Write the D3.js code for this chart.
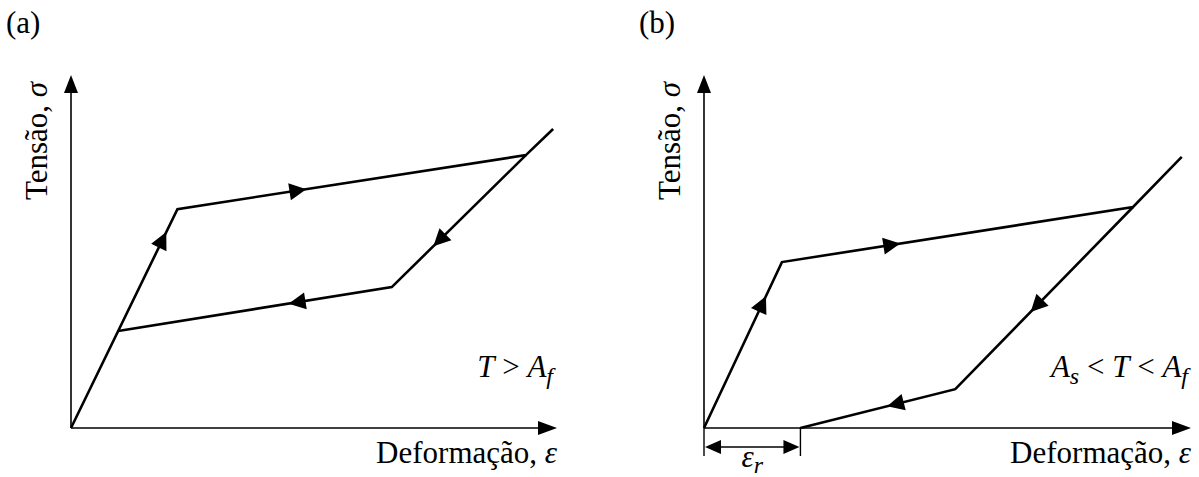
<!DOCTYPE html>
<html>
<head>
<meta charset="utf-8">
<script src="https://cdn.jsdelivr.net/npm/d3@7"></script>
<style>
  html, body { margin: 0; padding: 0; background: #fff; }
  svg { display: block; }
  text { font-family: "Liberation Serif", "Times New Roman", serif; fill: #000; }
</style>
</head>
<body>
<svg id="chart" width="1199" height="477"></svg>
<script>
// Schematic stress–strain loops of a shape-memory alloy (strain, stress in arbitrary units)
const panelNames = ["(a)", "(b)"];
const conditionLabels = [["T", " > ", "A", "f"], ["A", "s", " < ", "T", " < ", "A", "f"]];

// (a) complete superelastic loop, T > Af
const loadA   = [[0, 0], [2.19, 6.20], [9.36, 7.73], [9.92, 8.47]];
const unloadA = [[9.36, 7.73], [6.60, 3.99], [0.97, 2.75]];
// (b) partial recovery, As < T < Af
const loadB   = [[0, 0], [1.60, 4.70], [8.81, 6.26], [9.81, 7.68]];
const unloadB = [[8.81, 6.26], [5.16, 1.10], [1.98, 0]];
const residualStrainB = 1.98;

// Direction arrows: [segment start, segment end, fraction along segment]
const arrowsA = [
  [loadA[0], loadA[1], 0.895],
  [loadA[1], loadA[2], 0.37],
  [unloadA[0], unloadA[1], 0.69],
  [unloadA[1], unloadA[2], 0.377]
];
const arrowsB = [
  [loadB[0], loadB[1], 0.795],
  [loadB[1], loadB[2], 0.337],
  [unloadB[0], unloadB[1], 0.576],
  [unloadB[1], unloadB[2], 0.44]
];

const svg = d3.select("#chart");
const FS = 31;
const SUB = 24;

function arrowHead(g, tip, angle, len, half) {
  const pts = [[0, 0], [-len, -half], [-len, half]];
  g.append("path")
    .attr("d", "M" + pts.map(p => p.join(",")).join("L") + "Z")
    .attr("transform", `translate(${tip[0]},${tip[1]}) rotate(${angle * 180 / Math.PI})`)
    .attr("fill", "#000");
}

function drawPanel(cfg) {
  const x = d3.scaleLinear().domain([0, 10]).range([cfg.x0, cfg.x1]);
  const y = d3.scaleLinear().domain([0, 10]).range([428, 75]);
  const g = svg.append("g");

  // axes with arrowheads
  g.append("line").attr("x1", x(0)).attr("y1", y(0)).attr("x2", x(10) - 10).attr("y2", y(0))
    .attr("stroke", "#000").attr("stroke-width", 1.6);
  arrowHead(g, [x(10), y(0)], 0, 19, 7);
  g.append("line").attr("x1", x(0)).attr("y1", y(0)).attr("x2", x(0)).attr("y2", y(10) + 10)
    .attr("stroke", "#000").attr("stroke-width", 1.6);
  arrowHead(g, [x(0), y(10)], -Math.PI / 2, 18, 7);

  // loading and unloading paths
  const line = d3.line().x(d => x(d[0])).y(d => y(d[1]));
  [cfg.load, cfg.unload].forEach(seg => {
    g.append("path").attr("d", line(seg)).attr("fill", "none")
      .attr("stroke", "#000").attr("stroke-width", 2.6).attr("stroke-linejoin", "miter");
  });

  // direction arrowheads
  cfg.arrows.forEach(([a, b, t]) => {
    const p0 = [x(a[0]), y(a[1])], p1 = [x(b[0]), y(b[1])];
    const tip = [p0[0] + (p1[0] - p0[0]) * t, p0[1] + (p1[1] - p0[1]) * t];
    const ang = Math.atan2(p1[1] - p0[1], p1[0] - p0[0]);
    arrowHead(g, tip, ang, 17, 8.5);
  });

  // titles
  g.append("text").attr("x", cfg.x0 - 65).attr("y", 33).attr("font-size", FS).text(cfg.name);
  g.append("text").attr("x", x(10)).attr("y", 463).attr("text-anchor", "end").attr("font-size", FS)
    .text("Deformação, ").append("tspan").attr("font-style", "italic").text("ε");
  g.append("text").attr("transform", `translate(${x(0) - 24},141) rotate(-90)`)
    .attr("text-anchor", "middle").attr("font-size", FS)
    .text("Tensão, ").append("tspan").attr("font-style", "italic").text("σ");

  // temperature condition
  const cond = g.append("text").attr("x", cfg.condX).attr("y", 377).attr("text-anchor", "end")
    .attr("font-size", FS);
  let sub = false;
  cfg.cond.forEach(part => {
    const isOp = part.trim() === "<" || part.trim() === ">";
    const isSub = part === "s" || part === "f";
    const ts = cond.append("tspan").text(part);
    if (!isOp) ts.attr("font-style", "italic");
    if (isSub) { ts.attr("font-size", SUB).attr("dy", 7); sub = true; }
    else if (sub) { ts.attr("dy", -7); sub = false; }
  });

  return { x, y, g };
}

drawPanel({ name: panelNames[0], x0: 71, x1: 557, load: loadA, unload: unloadA, arrows: arrowsA,
  cond: conditionLabels[0], condX: 553 });
const pb = drawPanel({ name: panelNames[1], x0: 704, x1: 1191, load: loadB, unload: unloadB, arrows: arrowsB,
  cond: conditionLabels[1], condX: 1188 });

// residual strain dimension
const xr = pb.x(residualStrainB), x0 = pb.x(0);
pb.g.append("line").attr("x1", x0).attr("x2", x0).attr("y1", 428).attr("y2", 456)
  .attr("stroke", "#000").attr("stroke-width", 1.4);
pb.g.append("line").attr("x1", xr).attr("x2", xr).attr("y1", 427).attr("y2", 456)
  .attr("stroke", "#000").attr("stroke-width", 1.4);
pb.g.append("line").attr("x1", x0 + 10).attr("x2", xr - 10).attr("y1", 447).attr("y2", 447)
  .attr("stroke", "#000").attr("stroke-width", 1.4);
arrowHead(pb.g, [x0 + 1, 447], Math.PI, 16, 7);
arrowHead(pb.g, [xr - 1, 447], 0, 16, 7);
const er = pb.g.append("text").attr("x", (x0 + xr) / 2).attr("y", 467).attr("text-anchor", "middle")
  .attr("font-size", FS).attr("font-style", "italic");
er.append("tspan").text("ε");
er.append("tspan").attr("font-size", SUB).attr("dy", 6).text("r");
</script>
</body>
</html>
